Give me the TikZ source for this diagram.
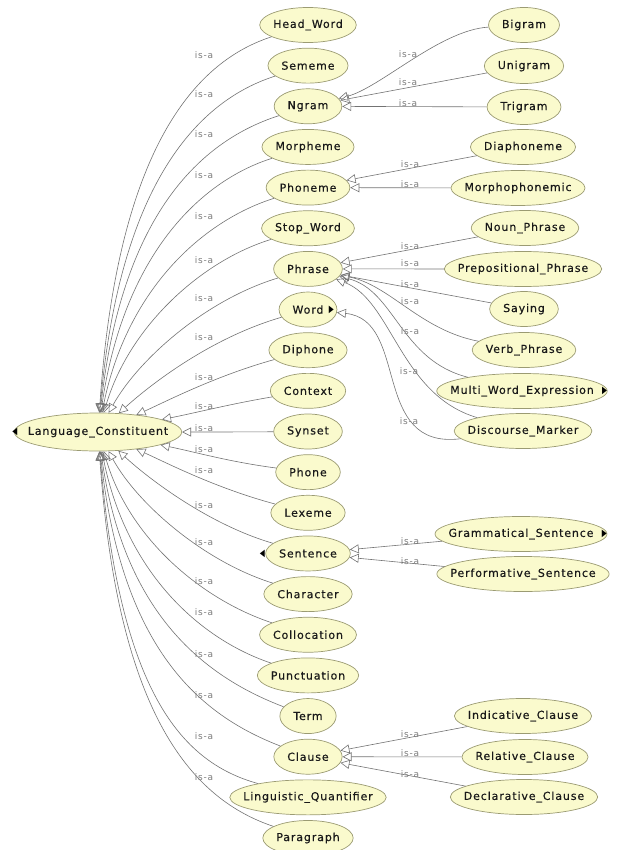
\documentclass[tikz,border=0pt]{standalone}
\usepackage{fontspec}
\newfontfamily\dejavu[LetterSpace=8,FakeBold=0.4]{DejaVu Sans}
\newfontfamily\dejavulight[LetterSpace=8]{DejaVu Sans}
\newfontfamily\dejavuplain{DejaVu Sans}
\usetikzlibrary{arrows.meta,shapes.geometric}
\definecolor{clsfill}{RGB}{250,250,205}
\definecolor{clsline}{RGB}{155,155,115}
\definecolor{isaline}{RGB}{115,115,115}
\definecolor{isatext}{RGB}{125,125,125}
\newdimen\clsw
\newcommand\clsfont{\dejavu\fontsize{11}{13}\selectfont}
% typeset a class name and keep its width for the ellipse
\newcommand\clstext[1]{\setbox0\hbox{#1}\global\clsw=\wd0 \box0}
\newcommand\mkright{\scalebox{0.65}[1]{▶}}
\newcommand\mkleft{\scalebox{0.65}[1]{◀}}
\tikzset{
  cls/.style={ellipse, draw=clsline, fill=clsfill, line width=0.7pt, font=\clsfont,
    text=black!90, inner xsep=-14pt, inner ysep=0pt, minimum height=35pt,
    minimum width=\clsw+27pt},
  isa/.style={draw=isaline, line width=0.6pt, -{Triangle[open,length=9pt,width=9pt]}},
  lbl/.style={font=\dejavulight\fontsize{9}{10}\selectfont, text=isatext, inner sep=0pt},
  mkr/.style={font=\dejavuplain\fontsize{10}{10}\selectfont, inner sep=0pt},
}

\begin{document}
\begin{tikzpicture}[x=1pt,y=-1pt]
  \useasboundingbox (0,0) rectangle (617,850);
  % root class
  \node[cls, minimum height=38pt] (lc) at (98,432) {\clstext{Language\_Constituent}};
  \node[mkr] (lcmk) at ([xshift=1pt]lc.west) {\mkleft};
  % direct subclasses
  \foreach \n/\txt [count=\i from 0] in {hw/Head\_Word, sememe/Sememe, ngram/Ngram,
      morpheme/Morpheme, phoneme/Phoneme, stopword/Stop\_Word, phrase/Phrase, word/Word,
      diphone/Diphone, context/Context, synset/Synset, phone/Phone, lexeme/Lexeme,
      sentence/Sentence, character/Character, collocation/Collocation,
      punctuation/Punctuation, term/Term, clause/Clause,
      lquant/Linguistic\_Quantifier, paragraph/Paragraph}
    \node[cls] (\n) at (308,{25+40.65*\i}) {\clstext{\txt}};
  \node[mkr] (wordmk) at ([xshift=-6pt]word.east) {\mkright};
  \node[mkr] (sentmk) at ([xshift=-3pt]sentence.west) {\mkleft};
  % second level
  \foreach \n/\x/\y/\txt in {bigram/524/25/Bigram, unigram/524/66/Unigram,
      trigram/524/107/Trigram, diaphoneme/523/147/Diaphoneme,
      morphophon/518/188/Morphophonemic, nounph/525/228/Noun\_Phrase,
      prepph/523/269/Prepositional\_Phrase, saying/524/309/Saying,
      verbph/524/350/Verb\_Phrase, mwe/522/391/Multi\_Word\_Expression,
      dmarker/523/431/Discourse\_Marker, gramsent/521/534/Grammatical\_Sentence,
      perfsent/523/574/Performative\_Sentence, indclause/523/716/Indicative\_Clause,
      relclause/525/757/Relative\_Clause, declclause/524/797/Declarative\_Clause}
    \node[cls] (\n) at (\x,\y) {\clstext{\txt}};
  \node[mkr] (mwemk) at ([xshift=-3pt]mwe.east) {\mkright};
  \node[mkr] (gsmk) at ([xshift=-3pt]gramsent.east) {\mkright};

  % is-a edges to the root
  \foreach \n/\ax/\ay/\bx/\by/\ly in {hw/200/60/118/140/55, sememe/200/100/120/180/94,
      ngram/200/141/122/215/134, morpheme/200/181/124/255/175,
      phoneme/202/221/127/290/216, stopword/203/260/130/325/260,
      phrase/205/300/138/360/298, word/210/338/150/385/337,
      diphone/215/376/165/402/377, context/230/404/195/413/406,
      synset/240/432/200/432/428, phone/230/462/195/452/449,
      lexeme/215/488/165/462/470, sentence/210/525/150/480/505,
      character/205/562/138/505/542, collocation/203/600/130/540/581,
      punctuation/202/640/127/575/612, term/200/675/124/610/654,
      clause/200/715/122/650/695, lquant/180/762/120/690/736,
      paragraph/195/800/118/720/777} {
    \draw[isa] (\n) .. controls (\ax,\ay) and (\bx,\by) .. (lc);
    \node[lbl] (l\n) at (204,\ly) {is-a};
  }

  % is-a edges between subclasses
  \foreach \a/\b in {unigram/ngram, trigram/ngram, diaphoneme/phoneme, morphophon/phoneme,
      nounph/phrase, prepph/phrase, saying/phrase, gramsent/sentence, perfsent/sentence,
      indclause/clause, relclause/clause, declclause/clause}
    \draw[isa] (\a) -- (\b);
  \draw[isa] (bigram) .. controls (440,30) and (380,88) .. (ngram);
  \draw[isa] (verbph) .. controls (420,330) and (390,285) .. (phrase);
  \draw[isa] (mwe) .. controls (400,360) and (395,290) .. (phrase);
  \draw[isa] (dmarker) .. controls (400,395) and (392,300) .. (phrase);
  \draw[isa] (dmarker) .. controls (370,450) and (410,320) .. (word);
  \foreach \n/\x/\y in {bigram/408/54, unigram/408/82, trigram/408/103,
      diaphoneme/410/164, morphophon/410/184, nounph/410/246, prepph/410/263,
      saying/410/284, verbph/410/301, mwe/410/331, dmp/409/371, dmw/409/421,
      gramsent/410/541, perfsent/410/561, indclause/410/734, relclause/410/753,
      declclause/410/774}
    \node[lbl] (s\n) at (\x,\y) {is-a};
\end{tikzpicture}
\end{document}
